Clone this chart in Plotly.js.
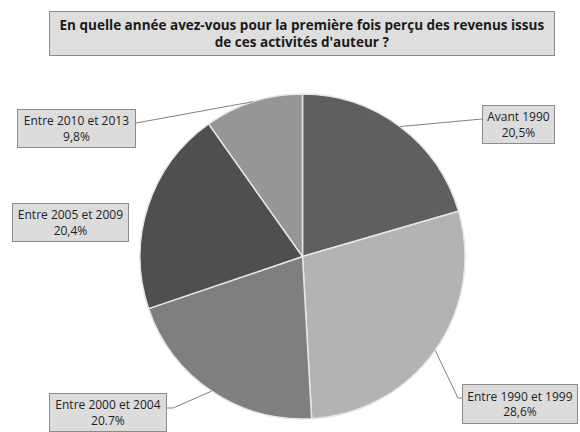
<!DOCTYPE html>
<html>
<head>
<meta charset="utf-8">
<script src="https://cdn.plot.ly/plotly-3.0.1.min.js"></script>
<style>html,body{margin:0;padding:0;background:#fff}#chart{width:580px;height:432px}</style>
</head>
<body>
<div id="chart"></div>
<script>
// ---- data ----
const categories = ['Avant 1990', 'Entre 1990 et 1999', 'Entre 2000 et 2004', 'Entre 2005 et 2009', 'Entre 2010 et 2013'];
const values = [20.5, 28.6, 20.7, 20.4, 9.8];
const valueLabels = ['20,5%', '28,6%', '20.7%', '20,4%', '9,8%'];
const colors = ['#5f5f5f', '#b3b3b3', '#7f7f7f', '#4f4f4f', '#969696'];
const titleText = "En quelle année avez-vous pour la première fois perçu des revenus issus<br>de ces activités d'auteur ?";

// ---- layout geometry (pixels) ----
const W = 580, H = 432;
const cx = 302.5, cy = 256.5, R = 162.5;
// label box centres / sizes
const boxes = [
  {x: 518.5, y: 124.5, w: 73, h: 39},
  {x: 520, y: 404, w: 116, h: 40},
  {x: 108, y: 412.5, w: 118, h: 39},
  {x: 70.5, y: 222.5, w: 117, h: 39},
  {x: 76.5, y: 128.5, w: 119, h: 39}
];
// leader line box-side anchors (null = no leader)
const leaderEnds = [
  [[482, 119]],
  [[462, 398], [458, 398]],
  [[167, 408], [173, 408]],
  null,
  [[136, 123]]
];

const px = x => x / W;
const py = y => 1 - y / H;

const total = values.reduce((a, b) => a + b, 0);
let cum = 0;
const shapes = [];
const annotations = [];
values.forEach((v, i) => {
  const mid = (cum + v / 2) / total;
  cum += v;
  const ang = mid * 2 * Math.PI;
  const ex = cx + R * Math.sin(ang), ey = cy - R * Math.cos(ang);
  if (leaderEnds[i]) {
    const pts = leaderEnds[i].concat([[ex, ey]]);
    let d = 'M ' + pts.map(p => px(p[0]) + ',' + py(p[1])).join(' L ');
    shapes.push({type: 'path', xref: 'paper', yref: 'paper', path: d, line: {color: '#808080', width: 1}});
  }
  const b = boxes[i];
  annotations.push({
    xref: 'paper', yref: 'paper', x: px(b.x), y: py(b.y), xanchor: 'center', yanchor: 'middle',
    text: categories[i] + '<br>' + valueLabels[i], showarrow: false,
    font: {family: 'Open Sans, sans-serif', size: 12, color: '#1e1e1e'},
    bgcolor: '#dcdcdc', bordercolor: '#8a8a8a', borderwidth: 1, borderpad: 2,
    width: b.w - 6, height: b.h - 6, align: 'center', valign: 'middle'
  });
});

annotations.push({
  xref: 'paper', yref: 'paper', x: px(302), y: py(33.5), xanchor: 'center', yanchor: 'middle',
  text: '<b>' + titleText + '</b>', showarrow: false,
  font: {family: 'Open Sans, sans-serif', size: 13.5, color: '#1a1a1a'},
  bgcolor: '#dedede', bordercolor: '#8a8a8a', borderwidth: 1, borderpad: 2,
  width: 500, height: 39, align: 'center', valign: 'middle'
});

const trace = {
  type: 'pie',
  labels: categories,
  values: values,
  sort: false,
  direction: 'clockwise',
  rotation: 0,
  textinfo: 'none',
  hoverinfo: 'label+percent',
  marker: {colors: colors, line: {color: '#e6e6e6', width: 1.5}},
  domain: {x: [px(cx - R), px(cx + R)], y: [py(cy + R), py(cy - R)]},
  showlegend: false
};

const layout = {
  width: W, height: H,
  margin: {l: 0, r: 0, t: 0, b: 0},
  paper_bgcolor: '#ffffff',
  showlegend: false,
  shapes: shapes,
  annotations: annotations
};

Plotly.newPlot('chart', [trace], layout, {displayModeBar: false, staticPlot: true});
</script>
</body>
</html>
